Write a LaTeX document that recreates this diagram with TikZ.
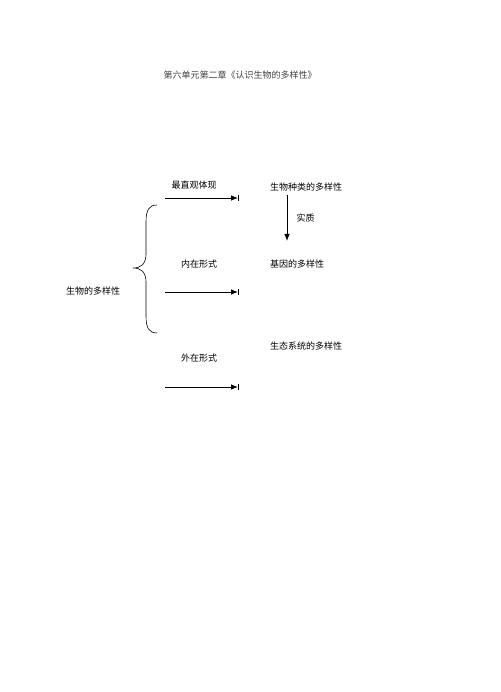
\documentclass[tikz,border=0pt]{standalone}
\usepackage{fontspec}
\setmainfont{Noto Sans CJK SC}
\usetikzlibrary{arrows.meta}
\begin{document}
\begin{tikzpicture}[x=1pt,y=-1pt,font=\fontsize{9pt}{11pt}\selectfont]
           \useasboundingbox (0,0) rectangle (500,692);
           \node[color=black!75] (title) at (240,75) {第六单元第二章《认识生物的多样性》};
           \node (whole) at (93,291) {生物的多样性};
           \node (direct) at (194,185) {最直观体现};
           \node (inner) at (199,264) {内在形式};
           \node (outer) at (199,358) {外在形式};
           \node (species) at (306,187) {生物种类的多样性};
           \node (gene) at (297,264) {基因的多样性};
           \node (eco) at (306,346) {生态系统的多样性};
           \coordinate (a1) at (165,198); \coordinate (b1) at (238,198);
           \coordinate (a2) at (165,292); \coordinate (b2) at (238,292);
           \coordinate (a3) at (165,387); \coordinate (b3) at (238,387);
           \draw[line width=.8pt,-{Latex[length=7pt,width=5.5pt]}] (a1) -- (b1);
           \draw[line width=.8pt,-{Latex[length=7pt,width=5.5pt]}] (a2) -- (b2);
           \draw[line width=.8pt,-{Latex[length=7pt,width=5.5pt]}] (a3) -- (b3);
           \draw[line width=.5pt] ([yshift=3pt]b1) -- ([yshift=-3pt]b1);
           \draw[line width=.5pt] ([yshift=3pt]b2) -- ([yshift=-3pt]b2);
           \draw[line width=.5pt] ([yshift=3pt]b3) -- ([yshift=-3pt]b3);
           \draw[line width=.8pt,-{Latex[length=7pt,width=5.5pt]}] (species.south -| 287,0) -- node[anchor=west,xshift=6pt]{实质} (287,241);
           \draw[line width=.6pt] (157,205) .. controls (149,205) and (146,210) .. (146,222) -- (146,254)
                .. controls (146,264) and (141,268) .. (133,268)
                .. controls (141,268) and (146,272) .. (146,282) -- (146,316)
                .. controls (146,328) and (149,333) .. (157,333);
       \end{tikzpicture}
\end{document}
